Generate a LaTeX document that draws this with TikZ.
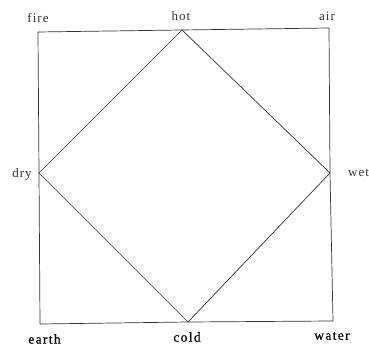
\documentclass[tikz,border=0pt]{standalone}
\usepackage{fontspec}
\setmainfont{Liberation Serif}
\newfontfamily\spaced[LetterSpace=8]{Liberation Serif}
\newfontfamily\spacedb[LetterSpace=10,FakeBold=0.6]{Liberation Serif}
\begin{document}
\begin{tikzpicture}[x=1pt,y=1pt,
  edge/.style={draw=black!80,line width=0.7pt,line join=round},
  lbl/.style={font=\spaced\fontsize{13}{15}\selectfont,text=black!80,inner sep=0pt},
  blbl/.style={font=\spacedb\fontsize{13.5}{15}\selectfont,text=black,inner sep=0pt}]
\useasboundingbox (0,0) rectangle (369,345);
\coordinate (tl) at (38,313);
\coordinate (tr) at (329,317);
\coordinate (br) at (333,24);
\coordinate (bl) at (40,21);
\coordinate (hot) at (182,315);
\coordinate (cold) at (188,23);
\coordinate (dry) at (39,172);
\coordinate (wet) at (330,172);
\draw[edge] (tl) -- (hot) -- (tr) -- (wet) -- (br) -- (cold) -- (bl) -- (dry) -- cycle;
\draw[edge] (hot) -- (wet) -- (cold) -- (dry) -- cycle;
\node[lbl] (lfire) at (38,327) {fire};
\node[lbl] (lhot) at (181,329) {hot};
\node[lbl] (lair) at (327,329) {air};
\node[lbl] (ldry) at (22,171) {dry};
\node[lbl,anchor=west] (lwet) at (348,172) {wet};
\node[blbl] (learth) at (44.5,6) {earth};
\node[blbl] (lcold) at (187,8) {cold};
\node[blbl] (lwater) at (332,9) {water};
\end{tikzpicture}
\end{document}
